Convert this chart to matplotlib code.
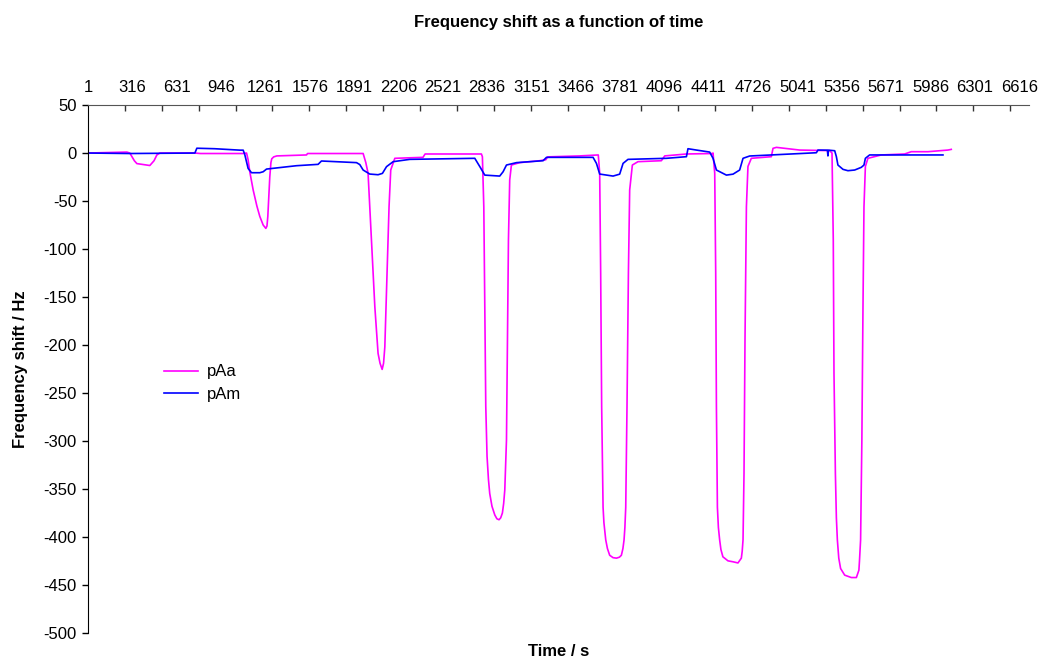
import matplotlib.pyplot as plt
from matplotlib.ticker import FixedLocator

plt.rcParams['font.family'] = ['Liberation Sans', 'DejaVu Sans']
plt.rcParams['axes.unicode_minus'] = False

# pAa: time (s) and frequency shift (Hz)
paa_t = [1, 150, 277, 298, 330, 348, 440, 470, 490, 511, 760, 800, 1100, 1127,
         1138, 1150, 1174, 1200, 1221, 1245, 1264, 1272, 1278, 1285, 1292, 1300,
         1306, 1320, 1342, 1553, 1560, 1955,
         1974, 1990, 2014, 2038, 2061, 2075, 2090, 2100, 2109, 2125, 2139, 2151,
         2180, 2380,
         2395, 2795, 2802, 2812, 2819, 2826, 2835, 2845, 2854, 2870, 2890, 2905,
         2920, 2932, 2944, 2953, 2961,
         2973, 2980, 2987, 2996, 3008, 3067, 3209, 3252, 3266, 3493, 3625, 3635,
         3642, 3649, 3659, 3665, 3678, 3690, 3706, 3730, 3754, 3775, 3789, 3800,
         3808, 3814, 3820, 3829, 3839, 3848,
         3867, 3907, 4073, 4097, 4251, 4435, 4440, 4452, 4459, 4464, 4471, 4478,
         4487, 4496,
         4510, 4546, 4582, 4617, 4641, 4647, 4653, 4660, 4667, 4677, 4688, 4712,
         4854, 4866, 4890, 5055, 5268, 5285, 5294, 5299, 5309, 5316, 5323, 5333,
         5346, 5375, 5422, 5458, 5476, 5480, 5488, 5497, 5505, 5512, 5522, 5540,
         5635, 5801, 5848, 5966, 6108, 6132]
paa_hz = [0, 0.5, 1, 0, -8, -11, -13, -8, -2, 0, 0, -0.5, -0.5, 0,
          -7, -19.5, -38.5, -55, -66, -75, -78.5, -76, -66, -45, -25, -10,
          -6, -4, -3, -2, -0.5, -0.5,
          -10, -21, -90.6, -160, -208.7, -219, -225.4, -219, -202, -125, -56, -17.7,
          -5.5, -4.5,
          -1, -1, -3.9, -56, -160, -264, -316, -340, -354.6, -368, -377, -381,
          -382, -380, -375, -365, -351,
          -299, -195, -90.6, -28, -12.5, -10, -8, -7, -4, -3, -2, -21,
          -125, -264, -369, -385, -403, -412, -419, -421.5, -422, -421, -419, -412,
          -403, -390, -369, -264, -125, -38.5,
          -12.5, -9, -8, -3, -1, -0.5, 0, -21, -125, -264, -369, -390,
          -403, -413,
          -420.6, -424.8, -425.8, -427, -422, -415, -403, -334, -195, -56, -14, -5.5,
          -3.8, 4.9, 5.9, 3.1, 2.5, 0, -90.6, -229.6, -334, -380, -403, -422,
          -432.8, -439.7, -442.2, -442.2, -434.5, -425, -403, -299, -160, -56, -14, -5.5,
          -2, -1, 1.4, 1.4, 3.1, 3.8]

# pAm: time (s) and frequency shift (Hz)
pam_t = [1, 300, 760, 774, 900, 1080, 1103, 1115, 1138, 1162, 1221, 1245, 1269,
         1482, 1635, 1659, 1908, 1931, 1955, 2002, 2061, 2092, 2121, 2168, 2286,
         2748, 2783, 2819, 2925, 2949, 2973, 3044, 3233, 3257, 3588, 3612, 3635,
         3730, 3777, 3801, 3836, 4109, 4251, 4262, 4322, 4416, 4440, 4464, 4535,
         4582, 4629, 4653, 4700, 5174, 5185, 5252, 5256, 5260, 5304, 5316, 5327,
         5363, 5398, 5446, 5493, 5512, 5522, 5552, 6073]
pam_hz = [0, -0.5, 0, 5, 4.5, 3, 3, -2, -16, -20.5, -20.5, -19.5, -16.7,
          -13.2, -11.8, -8.3, -10, -12, -17.7, -21.9, -22.6, -21.2, -14.2, -9, -6.6,
          -5.5, -14, -23, -24, -19.5, -12.5, -10, -8, -4.5, -4.5, -10.8, -21.9,
          -24, -22, -10.8, -6.6, -5.5, -3.8, 4.5, 3.1, 1, -5.5, -17.7, -23,
          -22, -17.7, -5.5, -3.1, 0.3, 3.1, 3, -3, 3, 2.4, -3.8, -12.5,
          -17, -18.4, -17.7, -14.9, -12.5, -5.5, -2, -2]

x_labels = list(range(1, 6617, 315))
x_marks = list(range(1, 6600, 262))
y_ticks = list(range(-500, 51, 50))

fig = plt.figure(figsize=(10.44, 6.72), dpi=100)
ax = fig.add_axes([0.0843, 0.058, 0.9016, 0.7857])

ax.plot(paa_t, paa_hz, color='#FF00FF', lw=1.2, label='pAa', solid_joinstyle='round')
ax.plot(pam_t, pam_hz, color='#0000FF', lw=1.2, label='pAm', solid_joinstyle='round')

ax.set_xlim(1, 6686)
ax.set_ylim(-500, 50)

# category axis sits along the top edge
ax.xaxis.set_ticks_position('top')
ax.xaxis.set_label_position('bottom')
ax.xaxis.set_major_locator(FixedLocator(x_labels))
ax.xaxis.set_minor_locator(FixedLocator(x_marks))
ax.tick_params(axis='x', which='major', length=0, pad=7, labelsize=12)
ax.tick_params(axis='x', which='minor', direction='in', length=4, width=1, color='#333333')

ax.set_yticks(y_ticks)
ax.tick_params(axis='y', direction='out', length=4, width=1, pad=4, labelsize=12)

ax.spines['right'].set_visible(False)
ax.spines['bottom'].set_visible(False)
ax.spines['top'].set_color('#555555')

ax.set_title('Frequency shift as a function of time', fontsize=12, fontweight='bold', pad=56)
ax.set_xlabel('Time / s', fontsize=12, fontweight='bold', labelpad=8)
ax.set_ylabel('Frequency shift / Hz', fontsize=12, fontweight='bold', labelpad=11)

ax.legend(loc='upper left', bbox_to_anchor=(0.065, 0.537), frameon=False, fontsize=12,
          handlelength=2.0, handletextpad=0.55, labelspacing=0.45)

fig.savefig('out.png', dpi=100)
